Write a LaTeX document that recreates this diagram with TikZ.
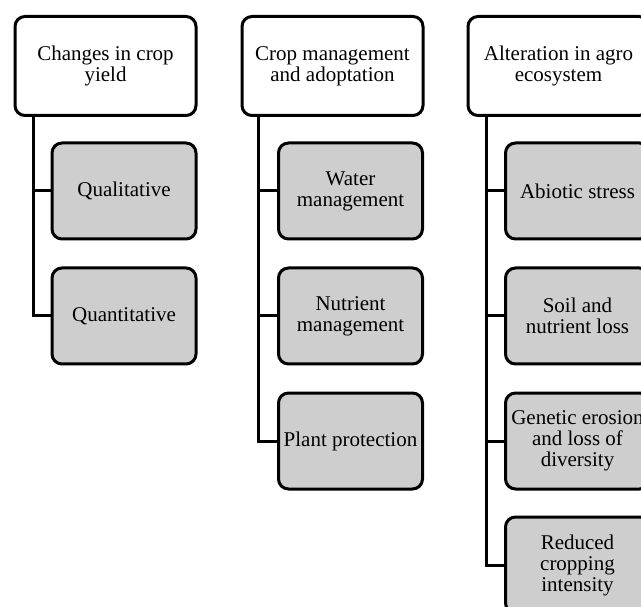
\documentclass[tikz,border=0pt]{standalone}
\usepackage{fontspec}
\setmainfont{Liberation Serif}
\usetikzlibrary{positioning}
\definecolor{boxgray}{RGB}{206,206,206}

\begin{document}
\begin{tikzpicture}[x=1pt, y=-1pt,
  head/.style={draw, line width=3pt, rounded corners=10pt, fill=white, align=center,
               font=\fontsize{21}{21}\selectfont, inner sep=2pt,
               minimum width=181pt, minimum height=99pt},
  sub/.style={head, fill=boxgray, minimum width=144pt, minimum height=96pt},
  link/.style={line width=3pt}
]
  \useasboundingbox (0,0) rectangle (641,607);
  \clip (0,0) rectangle (641,607);

  \node[head] (yld) at (105.5, 66) {Changes in crop\\ yield};
  \node[sub] (qual) at (124, 191) {Qualitative};
  \node[sub] (quan) at (124, 316) {Quantitative};

  \node[head] (mgmt) at (332.5, 66) {Crop management\\ and adoptation};
  \node[sub] (wat) at (350.5, 191) {Water\\ management};
  \node[sub] (nut) at (350.5, 316) {Nutrient\\ management};
  \node[sub] (prot) at (350.5, 441) {Plant protection};

  \node[head] (agro) at (558.5, 66) {Alteration in agro\\ ecosystem};
  \node[sub] (abio) at (577.5, 191) {Abiotic stress};
  \node[sub] (soil) at (577.5, 316) {Soil and\\ nutrient loss};
  \node[sub] (gen) at (577.5, 441) {Genetic erosion\\ and loss of\\ diversity};
  \node[sub] (red) at (577.5, 565) {Reduced\\ cropping\\ intensity};

  % trunks
  \draw[link] ([xshift=20]yld.south west) |- (qual.west);
  \draw[link] ([xshift=20]yld.south west) |- (quan.west);

  \draw[link] ([xshift=18]mgmt.south west) |- (wat.west);
  \draw[link] ([xshift=18]mgmt.south west) |- (nut.west);
  \draw[link] ([xshift=18]mgmt.south west) |- (prot.west);

  \draw[link] ([xshift=20]agro.south west) |- (abio.west);
  \draw[link] ([xshift=20]agro.south west) |- (soil.west);
  \draw[link] ([xshift=20]agro.south west) |- (gen.west);
  \draw[link] ([xshift=20]agro.south west) |- (red.west);

\end{tikzpicture}
\end{document}
